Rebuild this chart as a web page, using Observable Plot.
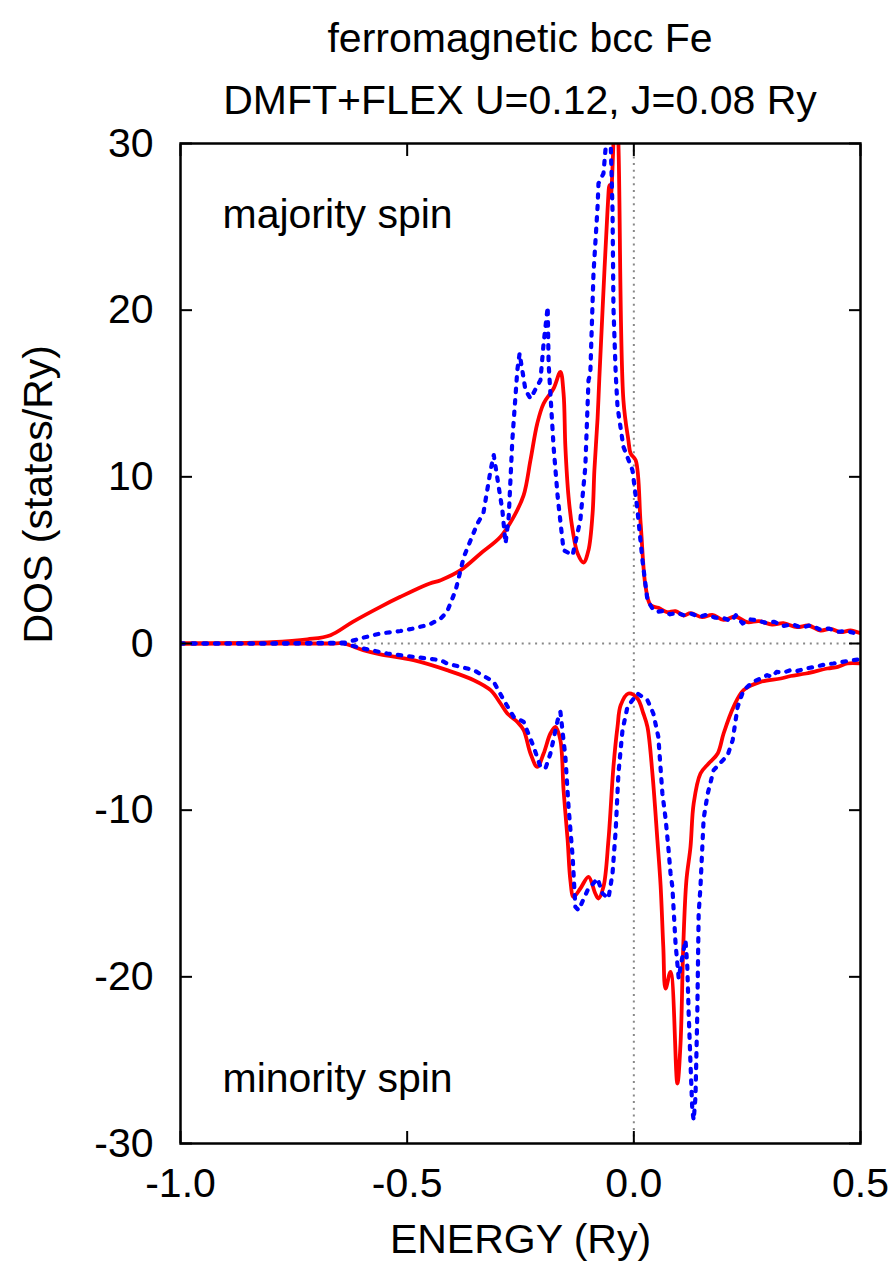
<!DOCTYPE html>
<html>
<head>
<meta charset="utf-8">
<script src="https://cdn.jsdelivr.net/npm/d3@7"></script>
<script src="https://cdn.jsdelivr.net/npm/@observablehq/plot@0.6"></script>
<style>
  html, body { margin: 0; padding: 0; background: #fff; }
  #wrap { width: 894px; height: 1273px; position: relative; font-family: "Liberation Sans", Arial, sans-serif; }
  #title { position: absolute; top: 0; left: 180px; width: 680px; padding-top: 7px; text-align: center; font-size: 41px; color: #000; pointer-events: none; }
  #title div { line-height: 62px; white-space: nowrap; }
  svg { display: block; }
</style>
</head>
<body>
<div id="wrap">
  <div id="chart"></div>
  <div id="title">
    <div>ferromagnetic bcc Fe</div>
    <div>DMFT+FLEX U=0.12, J=0.08 Ry</div>
  </div>
</div>
<script>
// Majority spin, DMFT+FLEX (red solid)
const majFlexE = [-1.0,-0.9,-0.8,-0.72,-0.669,-0.62,-0.559,-0.515,-0.45,-0.426,-0.382,-0.338,-0.294,-0.265,-0.243,-0.228,-0.213,-0.199,-0.177,-0.162,-0.155,-0.151,-0.144,-0.135,-0.124,-0.111,-0.100,-0.091,-0.087,-0.080,-0.076,-0.069,-0.058,-0.054,-0.051,-0.045,-0.040,-0.034,-0.023,-0.012,-0.007,0.004,0.015,0.026,0.037,0.054,0.073,0.092,0.110,0.125,0.151,0.173,0.198,0.224,0.250,0.276,0.305,0.330,0.360,0.385,0.412,0.434,0.456,0.478,0.5];
const majFlexDos = [0,0.02,0.08,0.25,0.5,1.3,2.2,2.8,3.6,3.8,4.4,5.4,6.4,7.6,8.9,11.0,13.2,14.4,15.3,16.3,15.0,11.8,8.8,6.8,5.4,4.86,5.6,7.8,10.4,13.5,16.0,20.0,26.0,27.5,26.8,30.0,34.0,30.0,14.6,12.2,11.4,11.0,7.2,3.4,2.3,2.14,1.88,1.94,1.68,1.82,1.58,1.72,1.42,1.62,1.28,1.34,1.14,1.22,0.98,1.08,0.78,0.88,0.68,0.78,0.62];

// Majority spin, reference (blue dotted)
const majRefE = [-1.0,-0.8,-0.636,-0.597,-0.559,-0.515,-0.486,-0.45,-0.426,-0.412,-0.393,-0.375,-0.345,-0.332,-0.316,-0.309,-0.290,-0.283,-0.276,-0.268,-0.257,-0.252,-0.239,-0.228,-0.206,-0.199,-0.190,-0.188,-0.177,-0.168,-0.155,-0.135,-0.118,-0.107,-0.100,-0.096,-0.089,-0.080,-0.078,-0.067,-0.062,-0.056,-0.051,-0.047,-0.045,-0.040,-0.036,-0.023,-0.003,0.008,0.019,0.030,0.041,0.050,0.066,0.080,0.095,0.110,0.125,0.145,0.160,0.180,0.200,0.215,0.225,0.240,0.255,0.270,0.290,0.310,0.330,0.350,0.370,0.390,0.410,0.430,0.450,0.470,0.490,0.5];
const majRefDos = [0,0,0.05,0.35,0.6,0.75,0.9,1.15,1.5,1.9,3.2,5.2,7.2,7.8,10.4,11.3,8.0,6.0,7.6,12.2,16.4,17.4,15.2,14.7,15.8,18.0,20.2,16.8,11.8,8.8,5.6,5.3,7.4,10.6,15.8,16.2,22.2,26.2,27.6,28.2,29.8,33.0,30.0,26.0,20.2,16.2,14.2,11.8,10.4,8.0,5.0,2.6,2.1,1.9,1.95,1.75,1.85,1.7,1.8,1.6,1.72,1.55,1.5,1.35,1.7,1.2,1.45,1.4,1.25,1.3,1.05,1.15,0.95,1.1,0.85,0.9,0.7,0.75,0.6,0.65];

// Minority spin, DMFT+FLEX (red solid)
const minFlexE = [-1.0,-0.669,-0.64,-0.597,-0.559,-0.486,-0.412,-0.353,-0.316,-0.294,-0.279,-0.257,-0.243,-0.228,-0.213,-0.199,-0.184,-0.173,-0.162,-0.155,-0.146,-0.140,-0.133,-0.118,-0.100,-0.085,-0.078,-0.067,-0.056,-0.045,-0.036,-0.029,-0.012,0.008,0.021,0.030,0.041,0.052,0.059,0.065,0.070,0.081,0.096,0.103,0.109,0.116,0.125,0.132,0.147,0.165,0.185,0.198,0.220,0.242,0.279,0.324,0.346,0.380,0.427,0.450,0.471,0.5];
const minFlexDos = [0,0,0,-0.4,-0.65,-1.0,-1.6,-2.2,-2.8,-3.6,-4.2,-4.7,-5.2,-6.6,-7.4,-6.6,-5.4,-5.0,-5.8,-8.8,-11.8,-14.2,-15.2,-14.7,-14.0,-15.0,-15.3,-14.6,-11.8,-7.4,-5.0,-3.7,-3.0,-3.3,-4.2,-5.0,-7.8,-11.8,-14.5,-18.2,-20.7,-19.7,-26.4,-24.0,-18.2,-14.2,-12.2,-9.6,-7.8,-7.2,-6.6,-5.4,-3.8,-2.8,-2.3,-2.1,-1.95,-1.8,-1.5,-1.4,-1.2,-1.2];

// Minority spin, reference (blue dotted)
const minRefE = [-1.0,-0.669,-0.64,-0.597,-0.544,-0.486,-0.426,-0.412,-0.353,-0.309,-0.287,-0.265,-0.243,-0.221,-0.206,-0.195,-0.184,-0.168,-0.162,-0.151,-0.144,-0.135,-0.129,-0.122,-0.102,-0.080,-0.069,-0.056,-0.047,-0.040,-0.034,-0.025,-0.014,0.008,0.030,0.043,0.054,0.063,0.070,0.076,0.081,0.085,0.092,0.099,0.103,0.114,0.118,0.121,0.125,0.129,0.132,0.136,0.140,0.143,0.147,0.154,0.163,0.176,0.207,0.218,0.229,0.242,0.263,0.280,0.294,0.305,0.315,0.330,0.345,0.360,0.380,0.400,0.423,0.440,0.460,0.484,0.5];
const minRefDos = [0,0,0,-0.3,-0.6,-0.8,-1.0,-1.2,-1.6,-2.3,-3.4,-4.4,-4.7,-6.2,-7.4,-7.5,-6.6,-4.6,-4.1,-6.8,-9.8,-12.8,-15.8,-16.0,-14.8,-14.1,-15.0,-15.3,-13.8,-11.2,-7.8,-5.2,-3.8,-3.0,-3.4,-4.2,-5.6,-9.0,-10.5,-12.2,-13.8,-14.6,-18.0,-20.1,-19.4,-17.8,-19.4,-22.2,-25.2,-28.0,-28.6,-27.2,-22.2,-16.2,-14.6,-10.5,-9.0,-7.6,-6.7,-5.8,-3.8,-2.8,-2.3,-2.1,-1.9,-2.0,-1.7,-1.75,-1.6,-1.65,-1.5,-1.4,-1.25,-1.2,-1.1,-1.0,-0.95];

const xTicks = [-1.0, -0.5, 0.0, 0.5];
const yTicks = [-30, -20, -10, 0, 10, 20, 30];
const zeroLine = [0];

const toRows = (E, D) => E.map((e, i) => ({e, d: D[i]}));
const majFlex = toRows(majFlexE, majFlexDos);
const majRef = toRows(majRefE, majRefDos);
const minFlex = toRows(minFlexE, minFlexDos);
const minRef = toRows(minRefE, minRefDos);

const FS = 41;
const red = "#ff0000", blue = "#0000ff";
const dotted = "3.5,8";

const chart = Plot.plot({
  width: 894,
  height: 1273,
  marginTop: 143,
  marginBottom: 130,
  marginLeft: 180,
  marginRight: 34,
  style: {fontFamily: "'Liberation Sans', Arial, sans-serif", fontSize: FS + "px", color: "#000"},
  x: {domain: [-1.0, 0.5]},
  y: {domain: [-30, 30]},
  marks: [
    Plot.ruleY(zeroLine, {stroke: "#888", strokeWidth: 2, strokeDasharray: "2,4.7"}),
    Plot.ruleX(zeroLine, {stroke: "#888", strokeWidth: 2, strokeDasharray: "2,4.7"}),
    Plot.line(majFlex, {x: "e", y: "d", stroke: red, strokeWidth: 3.8, curve: "catmull-rom", clip: true}),
    Plot.line(minFlex, {x: "e", y: "d", stroke: red, strokeWidth: 3.8, curve: "catmull-rom", clip: true}),
    Plot.line(majRef, {x: "e", y: "d", stroke: blue, strokeWidth: 4.2, strokeDasharray: dotted, clip: true}),
    Plot.line(minRef, {x: "e", y: "d", stroke: blue, strokeWidth: 4.2, strokeDasharray: dotted, clip: true}),
    // inward ticks on all four sides
    Plot.axisY(yTicks, {anchor: "left", tickSize: 12, dx: 12, tickFormat: () => "", label: null, strokeWidth: 2, stroke: "#000"}),
    Plot.axisY(yTicks, {anchor: "right", tickSize: 12, dx: -12, tickFormat: () => "", label: null, strokeWidth: 2, stroke: "#000"}),
    Plot.axisX(xTicks, {anchor: "bottom", tickSize: 12, dy: -12, tickFormat: () => "", label: null, strokeWidth: 2, stroke: "#000"}),
    Plot.axisX(xTicks, {anchor: "top", tickSize: 12, dy: 12, tickFormat: () => "", label: null, strokeWidth: 2, stroke: "#000"}),
    // tick labels
    Plot.axisY(yTicks, {anchor: "left", tickSize: 0, tickPadding: 27, tickFormat: d => String(d), label: null, fontSize: FS, fill: "#000"}),
    Plot.axisX(xTicks, {anchor: "bottom", tickSize: 0, tickPadding: 24, tickFormat: d => d.toFixed(1), label: null, fontSize: FS, fill: "#000"}),
    Plot.frame({stroke: "#000", strokeWidth: 2.5}),
    Plot.text(["DOS (states/Ry)"], {frameAnchor: "left", rotate: -90, dx: -142, fontSize: FS, fill: "#000"}),
    Plot.text(["ENERGY (Ry)"], {frameAnchor: "bottom", dy: 109, fontSize: FS, fill: "#000"}),
    Plot.text(["majority spin"], {frameAnchor: "top-left", dx: 42, dy: 55, textAnchor: "start", fontSize: FS, fill: "#000"}),
    Plot.text(["minority spin"], {frameAnchor: "bottom-left", dx: 42, dy: -52, textAnchor: "start", fontSize: FS, fill: "#000"})
  ]
});
document.getElementById("chart").appendChild(chart);
</script>
</body>
</html>
